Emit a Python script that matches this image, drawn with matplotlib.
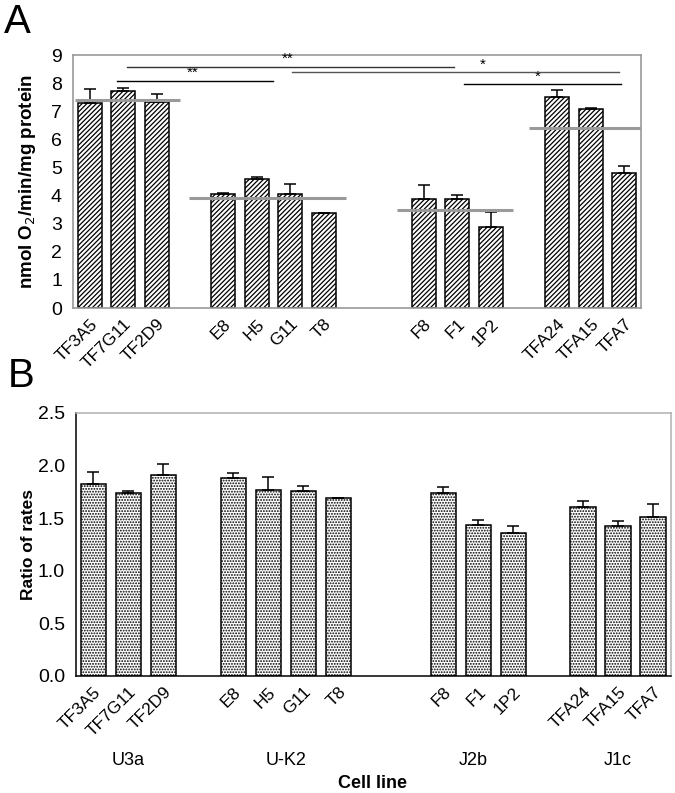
import matplotlib
matplotlib.use("Agg")
import matplotlib.pyplot as plt
import numpy as np

plt.rcParams['font.family'] = ['Liberation Sans', 'DejaVu Sans']
plt.rcParams['hatch.linewidth'] = 0.9

# ---------------- data ----------------
cell_lines = ["TF3A5", "TF7G11", "TF2D9", "", "E8", "H5", "G11", "T8", "", "",
              "F8", "F1", "1P2", "", "TFA24", "TFA15", "TFA7"]
groups = ["U3a", "U-K2", "J2b", "J1c"]
group_pos = [1, 5.5, 10.85, 15]

rate = [7.29, 7.73, 7.34, None, 4.05, 4.58, 4.05, 3.39, None, None,
        3.86, 3.89, 2.87, None, 7.51, 7.07, 4.80]
rate_err = [0.50, 0.09, 0.26, None, 0.04, 0.09, 0.37, 0.0, None, None,
            0.53, 0.12, 0.53, None, 0.26, 0.05, 0.26]

ratio = [1.82, 1.74, 1.91, None, 1.88, 1.77, 1.76, 1.69, None, None,
         1.74, 1.43, 1.36, None, 1.60, 1.42, 1.51]
ratio_err = [0.12, 0.02, 0.10, None, 0.05, 0.12, 0.04, 0.0, None, None,
             0.05, 0.05, 0.06, None, 0.06, 0.05, 0.12]

# group means (gray lines): (x start, x end, value)
mean_lines = [(-0.45, 2.7, 7.41), (2.97, 7.67, 3.92), (9.2, 12.67, 3.49), (13.15, 16.5, 6.39)]

# significance bars: (x start, x end, y, label, label x, color)
sig_bars = [(0.82, 5.49, 8.08, "**", 3.09, "black"),
            (1.12, 10.91, 8.59, "**", 5.91, "#333333"),
            (6.06, 15.84, 8.39, "*", 11.75, "#555555"),
            (11.2, 15.9, 7.96, "*", 13.4, "black")]

x = np.arange(len(cell_lines))
idx = [i for i, v in enumerate(rate) if v is not None]

fig = plt.figure(figsize=(6.75, 7.93), dpi=100)

# ---------------- panel A ----------------
axA = fig.add_axes([73/675, 1-308/793, (641-73)/675, (308-55)/793])
xs = x[idx]
vals = np.array([rate[i] for i in idx])
errs = np.array([rate_err[i] for i in idx])
axA.bar(xs, vals, width=0.72, color="white", edgecolor="black", linewidth=1.1,
        hatch="///////", zorder=2)
axA.errorbar(xs, vals, yerr=[np.zeros_like(errs), errs], fmt="none", ecolor="black",
             elinewidth=1.1, capsize=4, capthick=1.1, zorder=3)
for x0, x1, v in mean_lines:
    axA.plot([x0, x1], [v, v], color="#9a9a9a", lw=2.2, zorder=4, solid_capstyle="butt")
for x0, x1, yv, lab, lx, col in sig_bars:
    axA.plot([x0, x1], [yv, yv], color=col, lw=1.0, zorder=4)
    axA.text(lx, yv + 0.03, lab, ha="center", va="bottom", fontsize=11, color="black")
axA.set_xlim(-0.5, 16.5)
axA.set_ylim(0, 9)
axA.set_yticks(range(0, 10))
axA.set_xticks(xs)
axA.set_xticklabels([cell_lines[i] for i in idx], rotation=45, ha="right",
                    rotation_mode="anchor", fontsize=12.5)
axA.tick_params(axis="x", length=0, pad=6)
axA.tick_params(axis="y", length=0, labelsize=14, pad=8)
for s in axA.spines.values():
    s.set_color("#999999")
    s.set_linewidth(1.2)
axA.set_ylabel("nmol O$_2$/min/mg protein", fontsize=13.5, fontweight="bold", labelpad=9)

# ---------------- panel B ----------------
axB = fig.add_axes([76/675, 1-676/793, (670.5-76)/675, (676-412.7)/793])
vb = np.array([ratio[i] for i in idx])
eb = np.array([ratio_err[i] for i in idx])
axB.bar(xs, vb, width=0.72, color="white", edgecolor="black", linewidth=1.1,
        hatch="......", zorder=2)
axB.errorbar(xs, vb, yerr=[np.zeros_like(eb), eb], fmt="none", ecolor="black",
             elinewidth=1.1, capsize=4, capthick=1.1, zorder=3)
axB.set_xlim(-0.5, 16.5)
axB.set_ylim(0, 2.5)
axB.set_yticks(np.arange(0, 2.51, 0.5))
axB.set_yticklabels([f"{v:.1f}" for v in np.arange(0, 2.51, 0.5)])
axB.set_xticks(xs)
axB.set_xticklabels([cell_lines[i] for i in idx], rotation=45, ha="right",
                    rotation_mode="anchor", fontsize=12.5)
axB.tick_params(axis="x", length=0, pad=6)
axB.tick_params(axis="y", length=0, labelsize=14, pad=8)
for k in ["top", "right"]:
    axB.spines[k].set_color("#b0b0b0")
axB.spines["left"].set_color("black")
axB.spines["bottom"].set_color("black")
for s in axB.spines.values():
    s.set_linewidth(1.1)
axB.set_ylabel("Ratio of rates", fontsize=12.5, fontweight="bold", labelpad=1)
for g, gp in zip(groups, group_pos):
    axB.text(gp, -0.80, g, ha="center", va="center", fontsize=13,
             transform=axB.transData, clip_on=False)
axB.text(372/675, 1-783/793, "Cell line", ha="center", va="center", fontsize=13,
         fontweight="bold", transform=fig.transFigure)

# panel letters
fig.text(4/675, 1-33/793, "A", fontsize=29, va="baseline", ha="left")
fig.text(8/675, 1-387/793, "B", fontsize=29, va="baseline", ha="left")

fig.savefig("out.png", dpi=100)
